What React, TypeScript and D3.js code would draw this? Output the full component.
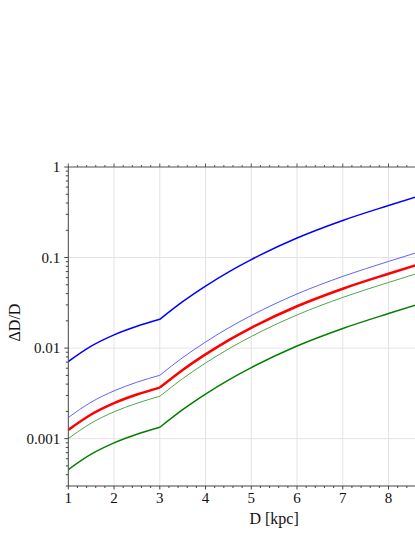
import React from "react";
import * as d3 from "d3";

const xs = [1, 1.5, 2, 2.5, 3, 3.5, 4, 4.5, 5, 6, 7, 8, 8.6];
const thickBlue = [0.0071, 0.0105, 0.014, 0.01742, 0.0208, 0.03258, 0.04842, 0.06918, 0.09506, 0.1644, 0.257, 0.3758, 0.4677];
const thinBlue = [0.00171, 0.00253, 0.00337, 0.0042, 0.00501, 0.00785, 0.01167, 0.01667, 0.02291, 0.03963, 0.06194, 0.09057, 0.1127];
const red = [0.00125, 0.001849, 0.002466, 0.003069, 0.003664, 0.005741, 0.008531, 0.01219, 0.01675, 0.02897, 0.04529, 0.06622, 0.08241];
const thinGreen = [0.001002, 0.001483, 0.001977, 0.00246, 0.002938, 0.004603, 0.006839, 0.009772, 0.01343, 0.02323, 0.03631, 0.05309, 0.06607];
const thickGreen = [0.000455, 0.000673, 0.000897, 0.001117, 0.001334, 0.002089, 0.003105, 0.004436, 0.006095, 0.01054, 0.01648, 0.0241, 0.02999];

const xTickLabels = ["1", "2", "3", "4", "5", "6", "7", "8", "9", "10"];
const yTickValues = [1, 0.1, 0.01, 0.001];
const yTickLabels = ["1", "0.1", "0.01", "0.001"];
const kinkX = 3;

const series = [
  { vals: thickGreen, color: "#008000", w: 1.5 },
  { vals: thinGreen, color: "#3c9c3c", w: 0.9 },
  { vals: thinBlue, color: "#5050ff", w: 0.9 },
  { vals: red, color: "#ff0000", w: 2.5 },
  { vals: thickBlue, color: "#0000ff", w: 1.5 },
];

const FONT = "Liberation Serif";
const TEXT = "#111";

export default function App() {
  const W = 415, H = 537;
  const left = 68.3, right = 480, top = 167, bottom = 486;
  const x = d3.scaleLinear().domain([1, 10]).range([left, right]);
  const y = d3.scaleLog().domain([0.0003, 1]).range([bottom, top]);

  const line = d3
    .line<[number, number]>()
    .x((d) => x(d[0]))
    .y((d) => y(d[1]))
    .curve(d3.curveMonotoneX);

  const pathFor = (vals: number[]) => {
    const pts: [number, number][] = xs.map((xv, i) => [xv, vals[i]]);
    const a = pts.filter((p) => p[0] <= kinkX);
    const b = pts.filter((p) => p[0] >= kinkX);
    return (line(a) || "") + (line(b) || "");
  };

  const xMinor: number[] = [];
  for (let v = 1; v <= 10.001; v += 0.2) xMinor.push(Math.round(v * 10) / 10);
  const xMajor = d3.range(1, 11);

  const yMinor: number[] = [];
  for (let k = -4; k <= 0; k++) {
    for (let m = 2; m <= 9; m++) {
      const v = m * Math.pow(10, k);
      if (v >= 0.0003 && v < 1) yMinor.push(v);
    }
  }

  return (
    <svg width={W} height={H} style={{ position: "absolute", left: 0, top: 0, background: "#fff" }}>
      <defs>
        <clipPath id="plotclip">
          <rect x={left} y={top} width={right - left} height={bottom - top} />
        </clipPath>
      </defs>
      <g stroke="#e3e3e3" strokeWidth={1}>
        {xMajor.slice(1).map((v) => (
          <line key={"gx" + v} x1={x(v)} x2={x(v)} y1={top} y2={bottom} />
        ))}
        {yTickValues.slice(1).map((v) => (
          <line key={"gy" + v} x1={left} x2={right} y1={y(v)} y2={y(v)} />
        ))}
      </g>
      <g clipPath="url(#plotclip)" fill="none">
        {series.map((s, i) => (
          <path key={i} d={pathFor(s.vals)} stroke={s.color} strokeWidth={s.w} strokeLinejoin="round" />
        ))}
      </g>
      <line x1={left} x2={right} y1={top} y2={top} stroke="#8a8a8a" strokeWidth={1.6} />
      <g stroke="#555" strokeWidth={1}>
        {xMinor.map((v) => {
          const major = Math.abs(v - Math.round(v)) < 1e-6;
          return <line key={"tt" + v} x1={x(v)} x2={x(v)} y1={top} y2={top - (major ? 3.5 : 2)} />;
        })}
      </g>
      <line x1={left} x2={right} y1={bottom} y2={bottom} stroke="#444" strokeWidth={1} />
      <g stroke="#444" strokeWidth={1}>
        {xMinor.map((v) => {
          const major = Math.abs(v - Math.round(v)) < 1e-6;
          return <line key={"bt" + v} x1={x(v)} x2={x(v)} y1={bottom} y2={bottom + (major ? 3.5 : 2)} />;
        })}
      </g>
      {xMajor
        .filter((v) => x(v) < W - 6)
        .map((v) => (
          <text key={"xl" + v} x={x(v)} y={503} fontFamily={FONT} fontSize={15} fill={TEXT} textAnchor="middle">
            {xTickLabels[v - 1]}
          </text>
        ))}
      <line x1={left} x2={left} y1={top} y2={bottom} stroke="#444" strokeWidth={1} />
      <g stroke="#444" strokeWidth={1}>
        {yTickValues.map((v) => (
          <line key={"ym" + v} x1={left} x2={left - 4} y1={y(v)} y2={y(v)} />
        ))}
        {yMinor.map((v) => (
          <line key={"yn" + v} x1={left} x2={left - 2.5} y1={y(v)} y2={y(v)} />
        ))}
      </g>
      {yTickValues.map((v, i) => (
        <text key={"yl" + v} x={left - 8} y={y(v) + 5} fontFamily={FONT} fontSize={15} fill={TEXT} textAnchor="end">
          {yTickLabels[i]}
        </text>
      ))}
      <text x={(left + right) / 2} y={524} fontFamily={FONT} fontSize={16} fill={TEXT} textAnchor="middle">
        D [kpc]
      </text>
      <text
        transform={`translate(20, ${(top + bottom) / 2 - 4}) rotate(-90)`}
        fontFamily={FONT}
        fontSize={16}
        fill={TEXT}
        textAnchor="middle"
      >
        ΔD/D
      </text>
    </svg>
  );
}
